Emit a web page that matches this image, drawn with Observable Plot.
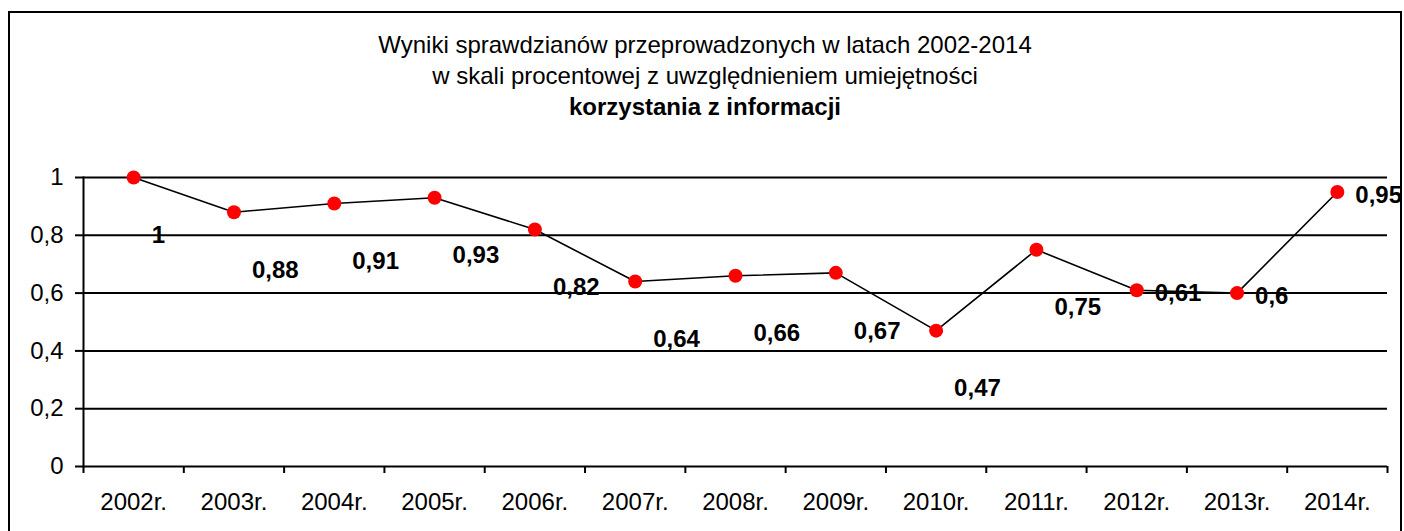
<!DOCTYPE html>
<html>
<head>
<meta charset="utf-8">
<script src="https://cdn.jsdelivr.net/npm/d3@7"></script>
<script src="https://cdn.jsdelivr.net/npm/@observablehq/plot@0.6"></script>
<style>
  html, body { margin: 0; padding: 0; background: #fff; }
  body { width: 1404px; height: 531px; overflow: hidden; position: relative; font-family: Arial, "Liberation Sans", sans-serif; }
  #frame { position: absolute; left: 8px; top: 11px; width: 1394px; height: 540px; border: 2px solid #000; box-sizing: border-box; z-index: 5; pointer-events: none; }
  #title { position: absolute; left: 8px; width: 1394px; top: 29px; text-align: center; font-size: 24px; line-height: 31px; color: #000; z-index: 2; }
  #title b { font-weight: bold; }
  #chart { position: absolute; left: 0; top: 140px; z-index: 1; }
</style>
</head>
<body>
<div id="title">Wyniki sprawdzianów przeprowadzonych w latach 2002-2014<br>w skali procentowej z uwzględnieniem umiejętności<br><b>korzystania z informacji</b></div>
<div id="chart"></div>
<div id="frame"></div>
<script>
const years = ["2002r.", "2003r.", "2004r.", "2005r.", "2006r.", "2007r.", "2008r.", "2009r.", "2010r.", "2011r.", "2012r.", "2013r.", "2014r."];
const values = [1, 0.88, 0.91, 0.93, 0.82, 0.64, 0.66, 0.67, 0.47, 0.75, 0.61, 0.6, 0.95];
const yTicks = [0, 0.2, 0.4, 0.6, 0.8, 1];

const data = years.map((y, i) => ({year: y, i, pos: i + 0.5, value: values[i]}));
const fmt = v => String(v).replace(".", ",");

const chart = Plot.plot({
  width: 1404,
  height: 391,
  marginTop: 37,
  marginBottom: 65,
  marginLeft: 83,
  marginRight: 17,
  style: {fontFamily: 'Arial, "Liberation Sans", sans-serif', fontSize: "24px", color: "#000", background: "transparent", overflow: "visible"},
  x: {type: "linear", domain: [0, years.length]},
  y: {domain: [0, 1]},
  marks: [
    Plot.ruleY(yTicks, {stroke: "#000", strokeWidth: 2}),
    Plot.frame({anchor: "left", stroke: "#000", strokeWidth: 2}),
    Plot.axisY({ticks: yTicks, tickFormat: fmt, tickSize: 8, tickPadding: 12, strokeWidth: 2, stroke: "#000", fill: "#000", label: null, fontSize: 24}),
    Plot.axisX({ticks: d3.range(years.length + 1), tickFormat: () => "", tickSize: 7, strokeWidth: 2, stroke: "#000", label: null}),
    Plot.axisX({ticks: data.map(d => d.pos), tickFormat: p => years[Math.round(p - 0.5)], tickSize: 0, tickPadding: 26, fill: "#000", label: null, fontSize: 24}),
    Plot.lineY(data, {x: "pos", y: "value", stroke: "#000", strokeWidth: 1.6}),
    Plot.dot(data, {x: "pos", y: "value", r: 7, fill: "#ff0000", stroke: "none"}),
    Plot.text(data.filter(d => d.i < 10), {x: "pos", y: "value", text: d => fmt(d.value), textAnchor: "start", dx: 18, dy: 58, fontWeight: "bold", fontSize: 24, fill: "#000"}),
    Plot.text(data.filter(d => d.i >= 10), {x: "pos", y: "value", text: d => fmt(d.value), textAnchor: "start", dx: 18, dy: 3, fontWeight: "bold", fontSize: 24, fill: "#000"})
  ]
});
document.getElementById("chart").appendChild(chart);
</script>
</body>
</html>
